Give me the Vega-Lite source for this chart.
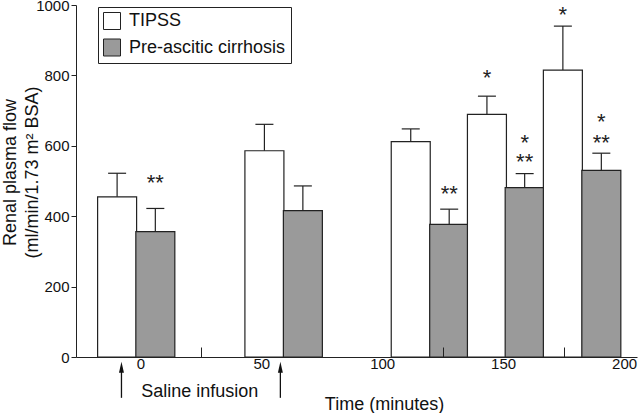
{
  "$schema": "https://vega.github.io/schema/vega-lite/v6.json",
  "width": 561,
  "height": 352,
  "autosize": {"type": "none"},
  "padding": {"left": 76, "top": 5, "right": 3, "bottom": 56},
  "config": {
    "view": {"stroke": null},
    "font": "Liberation Sans",
    "axis": {"grid": false, "domainColor": "#222", "tickColor": "#222", "labelColor": "#111", "titleColor": "#111", "labelFont": "Liberation Sans", "titleFont": "Liberation Sans", "titleFontWeight": "normal"}
  },
  "datasets": {
    "bars": [
      {"time": -9.6, "group": "TIPSS", "value": 455, "err": 522},
      {"time": 6.2, "group": "Pre-ascitic cirrhosis", "value": 356, "err": 422},
      {"time": 51.3, "group": "TIPSS", "value": 586, "err": 661},
      {"time": 67.2, "group": "Pre-ascitic cirrhosis", "value": 416, "err": 486},
      {"time": 111.8, "group": "TIPSS", "value": 612, "err": 648},
      {"time": 127.7, "group": "Pre-ascitic cirrhosis", "value": 377, "err": 420},
      {"time": 143.3, "group": "TIPSS", "value": 689, "err": 741},
      {"time": 158.9, "group": "Pre-ascitic cirrhosis", "value": 481, "err": 521},
      {"time": 174.7, "group": "TIPSS", "value": 815, "err": 940},
      {"time": 190.6, "group": "Pre-ascitic cirrhosis", "value": 530, "err": 579}
    ],
    "stars": [
      {"time": 6.2, "y": 512, "label": "**"},
      {"time": 127.7, "y": 479, "label": "**"},
      {"time": 143.3, "y": 810, "label": "*"},
      {"time": 158.9, "y": 626, "label": "*"},
      {"time": 158.9, "y": 572, "label": "**"},
      {"time": 174.7, "y": 988, "label": "*"},
      {"time": 190.6, "y": 686, "label": "*"},
      {"time": 190.6, "y": 624, "label": "**"}
    ],
    "arrows": [
      {"time": -7.8, "top": -29, "bottom": -116},
      {"time": 57.9, "top": -29, "bottom": -116}
    ],
    "notes": [
      {"time": 24.6, "y": -114.5, "label": "Saline infusion"}
    ]
  },
  "layer": [
    {
      "data": {"name": "bars"},
      "mark": {"type": "bar", "width": 39, "stroke": "#222", "strokeWidth": 1.2},
      "encoding": {
        "x": {
          "field": "time", "type": "quantitative",
          "scale": {"domain": [-24.53, 203.28], "nice": false, "zero": false},
          "axis": {
            "values": [0, 25, 50, 100, 125, 150, 175, 200],
            "labelExpr": "datum.value % 50 === 0 ? datum.label : ''",
            "tickSize": -10,
            "tickOpacity": {"condition": {"test": "datum.value % 50 === 0", "value": 0}, "value": 1},
            "labelPadding": 9,
            "labelFontSize": 15,
            "labelFlush": false,
            "title": "Time (minutes)",
            "titleFontSize": 18,
            "titleX": 308,
            "titleY": 52,
            "titleBaseline": "alphabetic",
            "zindex": 1
          }
        },
        "y": {
          "field": "value", "type": "quantitative",
          "scale": {"domain": [0, 1000], "nice": false},
          "axis": {
            "values": [0, 100, 200, 300, 400, 500, 600, 700, 800, 900, 1000],
            "format": "d",
            "labelExpr": "datum.value % 200 === 0 ? datum.label : ''",
            "tickSize": 5,
            "labelPadding": 2,
            "labelFontSize": 15,
            "title": ["Renal plasma flow", "(ml/min/1.73 m² BSA)"],
            "titleFontSize": 18,
            "titleLineHeight": 22.5,
            "titleBaseline": "alphabetic",
            "titleX": -61,
            "titleY": 167,
            "zindex": 1
          }
        },
        "fill": {
          "field": "group", "type": "nominal",
          "scale": {"domain": ["TIPSS", "Pre-ascitic cirrhosis"], "range": ["#ffffff", "#9a9a9a"]},
          "legend": {
            "orient": "none", "legendX": 22, "legendY": 2, "title": null,
            "symbolType": "square", "symbolSize": 289, "symbolStrokeColor": "#222", "symbolStrokeWidth": 1, "symbolOpacity": 1,
            "labelFontSize": 18, "labelFont": "Liberation Sans", "labelColor": "#111", "labelOffset": 8,
            "rowPadding": 4.5, "padding": 5, "strokeColor": "#222", "fillColor": "#ffffff"
          }
        }
      }
    },
    {
      "data": {"name": "bars"},
      "mark": {"type": "rule", "stroke": "#222", "strokeWidth": 1.2},
      "encoding": {
        "x": {"field": "time", "type": "quantitative"},
        "y": {"field": "value", "type": "quantitative"},
        "y2": {"field": "err"}
      }
    },
    {
      "data": {"name": "bars"},
      "mark": {"type": "tick", "orient": "horizontal", "size": 18, "thickness": 1.2, "color": "#222", "opacity": 1},
      "encoding": {
        "x": {"field": "time", "type": "quantitative"},
        "y": {"field": "err", "type": "quantitative"}
      }
    },
    {
      "data": {"name": "stars"},
      "mark": {"type": "text", "fontSize": 22, "font": "Liberation Sans", "baseline": "alphabetic", "align": "center", "dy": 13, "color": "#222"},
      "encoding": {
        "x": {"field": "time", "type": "quantitative"},
        "y": {"field": "y", "type": "quantitative"},
        "text": {"field": "label"}
      }
    },
    {
      "data": {"name": "arrows"},
      "mark": {"type": "rule", "stroke": "#111", "strokeWidth": 1.3},
      "encoding": {
        "x": {"field": "time", "type": "quantitative"},
        "y": {"field": "top", "type": "quantitative"},
        "y2": {"field": "bottom"}
      }
    },
    {
      "data": {"name": "arrows"},
      "mark": {"type": "point", "shape": "M0,-1L0.45,1L-0.45,1Z", "size": 121, "filled": true, "color": "#111", "opacity": 1},
      "encoding": {
        "x": {"field": "time", "type": "quantitative"},
        "y": {"field": "top", "type": "quantitative"}
      }
    },
    {
      "data": {"name": "notes"},
      "mark": {"type": "text", "fontSize": 18, "font": "Liberation Sans", "baseline": "alphabetic", "align": "center", "color": "#111"},
      "encoding": {
        "x": {"field": "time", "type": "quantitative"},
        "y": {"field": "y", "type": "quantitative"},
        "text": {"field": "label"}
      }
    }
  ]
}
